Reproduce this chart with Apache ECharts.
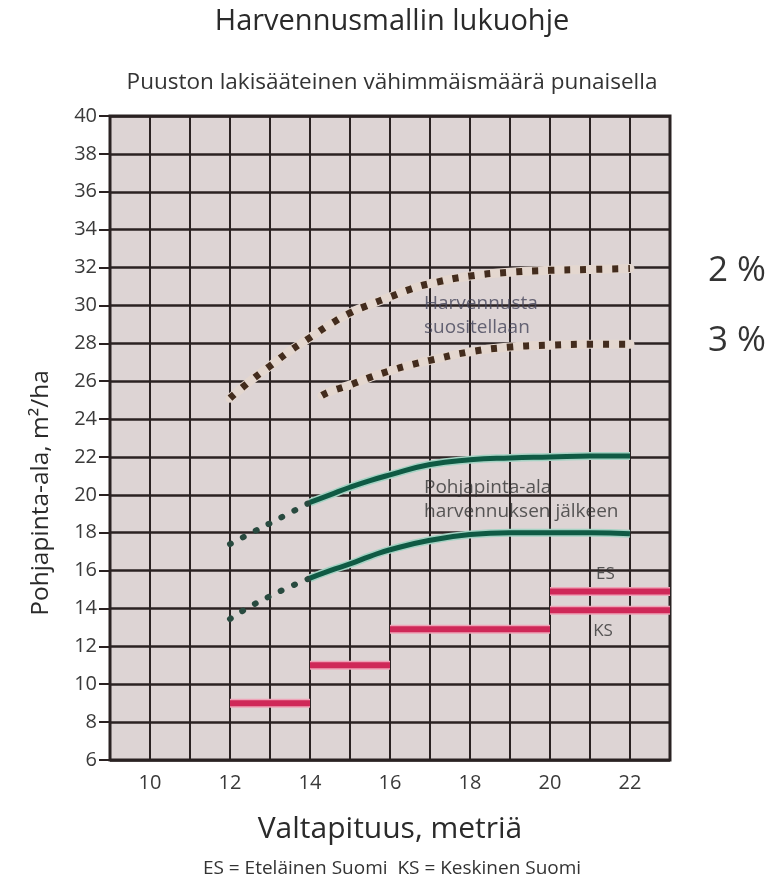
<!DOCTYPE html>
<html>
<head>
<meta charset="utf-8">
<script src="https://cdn.jsdelivr.net/npm/echarts@6/dist/echarts.min.js"></script>
<style>
  html, body { margin: 0; padding: 0; background: #fff; }
  #chart { width: 784px; height: 883px; }
</style>
</head>
<body>
<div id="chart"></div>
<script>
// Harvennusmallin lukuohje
var xTicks = [10, 12, 14, 16, 18, 20, 22];
var yTicks = [6, 8, 10, 12, 14, 16, 18, 20, 22, 24, 26, 28, 30, 32, 34, 36, 38, 40];

// ylempi harvennusraja (2 %)
var upperX = [12, 12.5, 13, 13.5, 14, 14.5, 15, 15.5, 16, 16.5, 17, 18, 19, 20, 21, 22];
var upperY = [25.1, 26.0, 26.8, 27.6, 28.3, 29.0, 29.6, 30.05, 30.45, 30.85, 31.15, 31.55, 31.75, 31.85, 31.9, 31.95];

// alempi harvennusraja (3 %)
var lowerX = [14.3, 14.5, 15, 15.5, 16, 16.5, 17, 18, 19, 20, 21, 22];
var lowerY = [25.25, 25.45, 25.8, 26.2, 26.55, 26.85, 27.1, 27.55, 27.8, 27.9, 27.95, 27.95];

// pohjapinta-ala harvennuksen jälkeen, pisteviiva 12-14 m
var afterDotX = [12, 12.5, 13, 13.5, 14];
var afterHighDotY = [17.4, 17.95, 18.5, 19.05, 19.6];
var afterLowDotY = [13.45, 14.1, 14.65, 15.15, 15.6];

// yhtenäinen viiva 14-22 m
var afterX = [14, 14.5, 15, 15.5, 16, 17, 18, 19, 20, 21, 22];
var afterHighY = [19.6, 20.0, 20.4, 20.75, 21.05, 21.6, 21.85, 21.95, 22.0, 22.05, 22.05];
var afterLowY = [15.6, 16.0, 16.35, 16.75, 17.1, 17.6, 17.9, 18.0, 18.0, 18.0, 17.95];

// lakisääteinen vähimmäismäärä (punainen)
var minStartX = [12, 14, 16, 20, 20];
var minEndX = [14, 16, 20, 23, 23];
var minLevel = [9, 11, 12.9, 14.9, 13.9];

var notes = [
  { x: 16.85, y: 29.45, text: 'Harvennusta\nsuositellaan', color: '#45455a' },
  { x: 16.85, y: 19.75, text: 'Pohjapinta-ala\nharvennuksen jälkeen', color: '#333333' }
];
var regionNotes = [
  { x: 21.15, y: 15.8, text: 'ES' },
  { x: 21.08, y: 12.8, text: 'KS' }
];
var percentLabels = [
  { x: 23.95, y: 31.8, text: '2 %' },
  { x: 23.95, y: 28.1, text: '3 %' }
];

var FONT = "'Open Sans', 'DejaVu Sans', sans-serif";

function pairs(xs, ys) {
  return xs.map(function (x, i) { return [x, ys[i]]; });
}

function segments() {
  var out = [];
  minLevel.forEach(function (y, i) {
    if (i > 0) out.push('-');
    out.push([minStartX[i], y]);
    out.push([minEndX[i], y]);
  });
  return out;
}

function curve(name, data, style, z, smooth) {
  return {
    name: name,
    type: 'line',
    data: data,
    smooth: smooth === undefined ? 0.5 : smooth,
    symbol: 'none',
    silent: true,
    z: z,
    lineStyle: style
  };
}

function textLayer(name, list, size, lineHeight, color, clip) {
  return {
    name: name,
    type: 'scatter',
    symbolSize: 0,
    silent: true,
    clip: clip,
    z: 5,
    data: list.map(function (n) {
      return { value: [n.x, n.y], text: n.text, label: { color: n.color || color } };
    }),
    label: {
      show: true,
      position: [0, 0],
      align: 'left',
      verticalAlign: 'middle',
      fontFamily: FONT,
      fontSize: size,
      lineHeight: lineHeight,
      color: color,
      formatter: function (p) { return p.data.text; }
    }
  };
}

var brownDots = { color: '#432c1d', width: 7, type: [6, 10], cap: 'butt' };
var brownHalo = { color: '#e4d7cf', width: 9, cap: 'round' };
var greenDots = { color: '#284a3f', width: 6, type: [1, 13.5], cap: 'round' };
var greenLine = { color: '#0f5a44', width: 5 };
var greenHalo = { color: '#a4d2c3', width: 8 };
var redLine = { color: '#cf2858', width: 6, cap: 'butt' };
var redHalo = { color: '#eea3b7', width: 9, cap: 'butt' };

var chart = echarts.init(document.getElementById('chart'), null, { renderer: 'canvas' });

var option = {
  backgroundColor: '#ffffff',
  animation: false,
  title: [
    {
      text: 'Harvennusmallin lukuohje',
      left: 'center',
      top: 2,
      textStyle: { fontFamily: FONT, fontSize: 29, fontWeight: 'normal', color: '#2a2a2a' }
    },
    {
      text: 'Puuston lakisääteinen vähimmäismäärä punaisella',
      left: 'center',
      top: 66,
      textStyle: { fontFamily: FONT, fontSize: 22.5, fontWeight: 'normal', color: '#333333' }
    },
    {
      text: 'ES = Eteläinen Suomi  KS = Keskinen Suomi',
      left: 'center',
      bottom: 0,
      textStyle: { fontFamily: FONT, fontSize: 19, fontWeight: 'normal', color: '#333333' }
    }
  ],
  grid: {
    left: 110,
    right: 114,
    top: 116,
    bottom: 123,
    show: true,
    backgroundColor: '#ddd4d4',
    borderColor: '#2a2222',
    borderWidth: 3
  },
  xAxis: {
    type: 'value',
    min: 9,
    max: 23,
    interval: 1,
    name: 'Valtapituus, metriä',
    nameLocation: 'middle',
    nameGap: 54,
    nameTextStyle: { fontFamily: FONT, fontSize: 30, color: '#2a2a2a' },
    axisLine: { show: false },
    axisTick: { show: false },
    axisLabel: {
      margin: 13,
      fontFamily: FONT,
      fontSize: 20,
      color: '#3a3a3a',
      formatter: function (v) { return xTicks.indexOf(v) >= 0 ? String(v) : ''; }
    },
    splitLine: { show: true, lineStyle: { color: '#2a2222', width: 2 } }
  },
  yAxis: {
    type: 'value',
    min: 6,
    max: 40,
    interval: 2,
    name: 'Pohjapinta-ala, m²/ha',
    nameLocation: 'middle',
    nameGap: 56,
    nameTextStyle: { fontFamily: FONT, fontSize: 24.5, color: '#2a2a2a', padding: [0, 110, 0, 0] },
    axisLine: { show: false },
    axisTick: { show: true, length: 11, lineStyle: { color: '#2a2222', width: 2 } },
    axisLabel: {
      margin: 13,
      fontFamily: FONT,
      fontSize: 20,
      color: '#3a3a3a',
      formatter: function (v) { return yTicks.indexOf(v) >= 0 ? String(v) : ''; }
    },
    splitLine: { show: true, lineStyle: { color: '#2a2222', width: 2.5 } }
  },
  series: [
    curve('2 % halo', pairs(upperX, upperY), brownHalo, 2),
    curve('2 %', pairs(upperX, upperY), brownDots, 3),
    curve('3 % halo', pairs(lowerX, lowerY), brownHalo, 2),
    curve('3 %', pairs(lowerX, lowerY), brownDots, 3),
    curve('jälkeen ylä piste', pairs(afterDotX, afterHighDotY), greenDots, 3),
    curve('jälkeen ala piste', pairs(afterDotX, afterLowDotY), greenDots, 3),
    curve('jälkeen ylä halo', pairs(afterX, afterHighY), greenHalo, 2),
    curve('jälkeen ylä', pairs(afterX, afterHighY), greenLine, 3),
    curve('jälkeen ala halo', pairs(afterX, afterLowY), greenHalo, 2),
    curve('jälkeen ala', pairs(afterX, afterLowY), greenLine, 3),
    curve('vähimmäis halo', segments(), redHalo, 2, false),
    curve('vähimmäis', segments(), redLine, 3, false),
    textLayer('tekstit', notes, 19, 24, '#333333', true),
    textLayer('alueet', regionNotes, 17, 20, '#333333', true),
    textLayer('prosentit', percentLabels, 35, 40, '#000000', false)
  ]
};

chart.setOption(option);
</script>
</body>
</html>
